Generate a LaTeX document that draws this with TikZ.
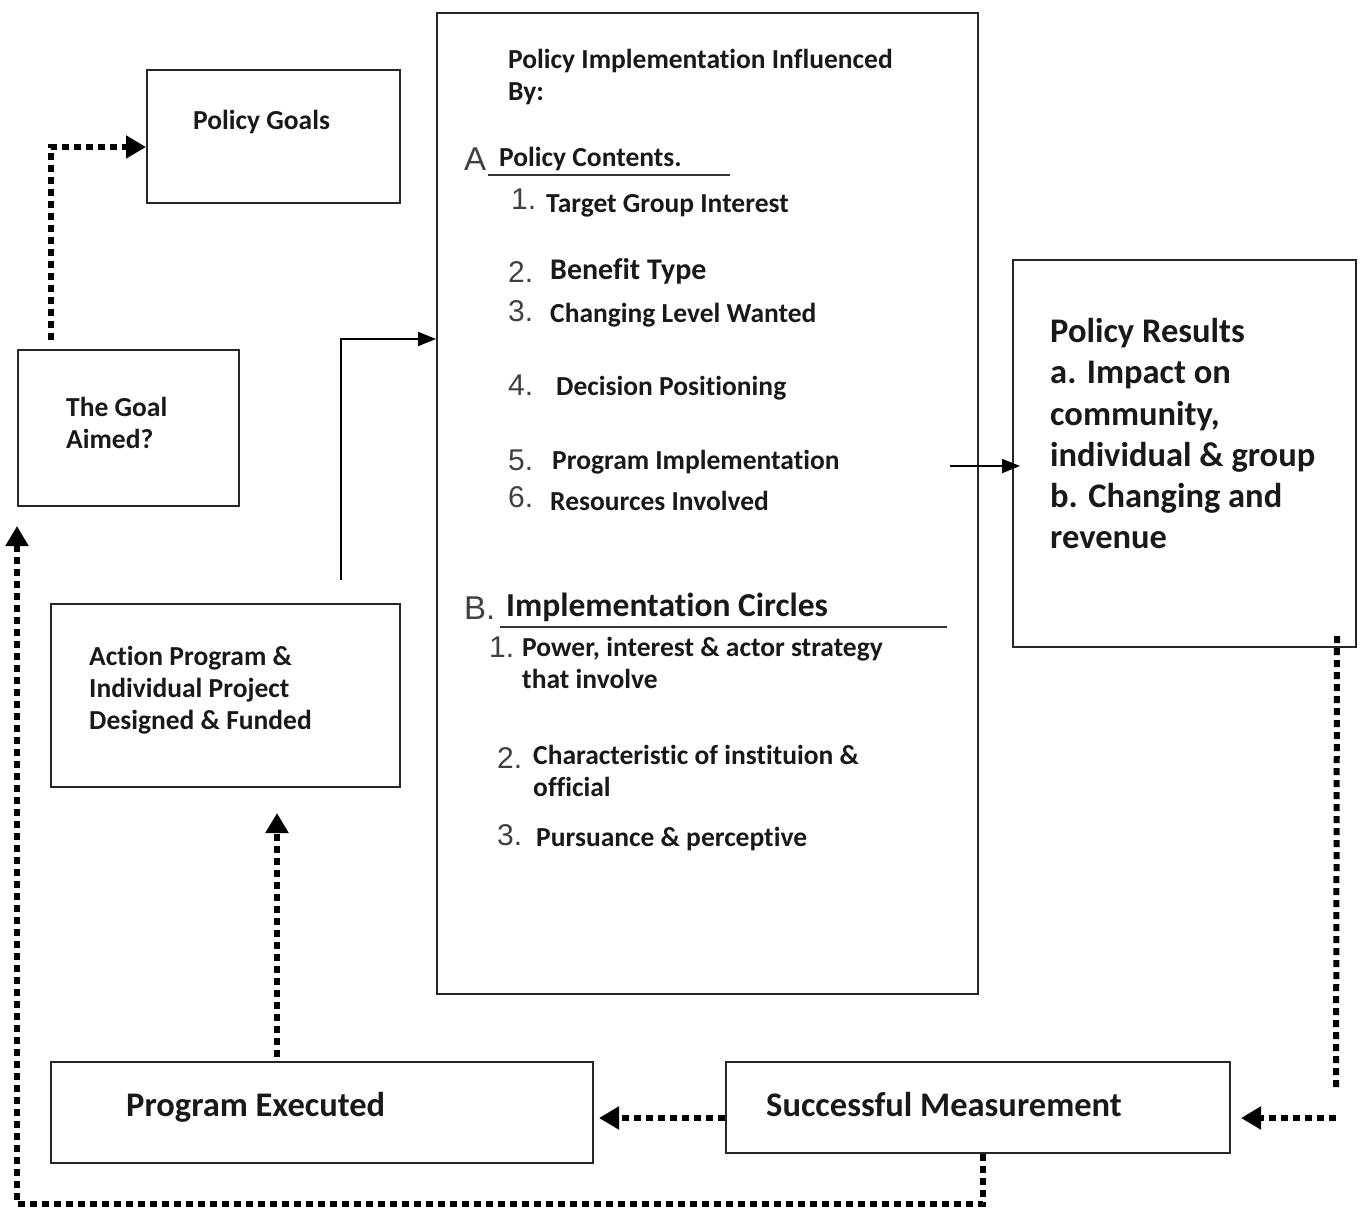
\documentclass[tikz,border=0pt]{standalone}
\usepackage{fontspec}
\setmainfont{Carlito}[Ligatures=NoCommon]
\newfontfamily\numfont{Liberation Sans}
\usetikzlibrary{arrows.meta}
\begin{document}
\begin{tikzpicture}[x=1pt,y=-1pt,
  box/.style={draw=black!85,line width=2pt,inner sep=0pt,fill=none},
  txt/.style={anchor=base west,inner sep=0pt,text=black!90,font=\bfseries\fontsize{27.5}{32}\selectfont},
  bigtxt/.style={txt,font=\bfseries\fontsize{34.5}{41}\selectfont},
  num/.style={anchor=base west,inner sep=0pt,text=black!75,font=\numfont\fontsize{30}{30}\selectfont},
  lettr/.style={num,font=\numfont\fontsize{33}{33}\selectfont},
  dotline/.style={draw=black,line width=6pt,dash pattern=on 7pt off 5pt},
  dotarrow/.style={dotline,-{Triangle[length=20pt,width=22pt]}},
  solidarrow/.style={draw=black,line width=2pt,-{Triangle[length=18pt,width=14pt]}},
  uline/.style={draw=black!80,line width=2pt}
]
\useasboundingbox (0,0) rectangle (1362,1209);

% boxes
\node[box,minimum width=253pt,minimum height=133pt] (pg) at (273.5,136.5) {};
\node[box,minimum width=541pt,minimum height=981pt] (main) at (707.5,503.5) {};
\node[box,minimum width=343pt,minimum height=387pt] (pr) at (1184.5,453.5) {};
\node[box,minimum width=221pt,minimum height=156pt] (ga) at (128.5,428) {};
\node[box,minimum width=349pt,minimum height=183pt] (ap) at (225.5,695.5) {};
\node[box,minimum width=542pt,minimum height=101pt] (pe) at (322,1112.5) {};
\node[box,minimum width=504pt,minimum height=91pt] (sm) at (978,1107.5) {};

% texts
\node[txt] (tpg) at (193,130) {Policy Goals};
\node[txt] (tga1) at (66,416) {The Goal};
\node[txt] (tga2) at (66,448) {Aimed?};
\node[txt] (tap1) at (89,665) {Action Program \&};
\node[txt] (tap2) at (89,697) {Individual Project};
\node[txt] (tap3) at (89,729) {Designed \& Funded};

\node[bigtxt] (tpr1) at (1050,342) {Policy Results};
\node[bigtxt] (tpr2) at (1050,383) {a. Impact on};
\node[bigtxt] (tpr3) at (1050,425) {community,};
\node[bigtxt] (tpr4) at (1050,466) {individual \& group};
\node[bigtxt] (tpr5) at (1050,507) {b. Changing and};
\node[bigtxt] (tpr6) at (1050,548) {revenue};

\node[bigtxt] (tpe) at (126,1116) {Program Executed};
\node[bigtxt] (tsm) at (766,1116) {Successful Measurement};

% main box content
\node[txt] (m0) at (508,69) {Policy Implementation Influenced};
\node[txt] (m0b) at (508,101) {By:};
\node[lettr] (la) at (464,171) {A};
\node[txt] (ma) at (499,167) {Policy Contents.};
\draw[uline] (488,175) -- (730,175);
\node[num] (n1) at (511,210) {1.};
\node[txt] (m1) at (546,212) {Target Group Interest};
\node[num] (n2) at (508,282) {2.};
\node[txt,font=\bfseries\fontsize{30}{32}\selectfont] (m2) at (550,279) {Benefit Type};
\node[num] (n3) at (508,321) {3.};
\node[txt] (m3) at (550,322) {Changing Level Wanted};
\node[num] (n4) at (508,395) {4.};
\node[txt] (m4) at (556,395) {Decision Positioning};
\node[num] (n5) at (508,470) {5.};
\node[txt] (m5) at (552,469) {Program Implementation};
\node[num] (n6) at (508,507) {6.};
\node[txt] (m6) at (550,510) {Resources Involved};

\node[lettr] (lb) at (464,619) {B.};
\node[txt,font=\bfseries\fontsize{33.5}{36}\selectfont] (mb) at (506,616) {Implementation Circles};
\draw[uline] (500,627) -- (947,627);
\node[num] (nb1) at (489,657) {1.};
\node[txt] (mb1) at (522,656) {Power, interest \& actor strategy};
\node[txt] (mb1b) at (522,688) {that involve};
\node[num] (nb2) at (497,768) {2.};
\node[txt] (mb2) at (533,764) {Characteristic of instituion \&};
\node[txt] (mb2b) at (533,796) {official};
\node[num] (nb3) at (497,845) {3.};
\node[txt] (mb3) at (536,846) {Pursuance \& perceptive};

% connectors
\coordinate (c1s) at (51,340);
\draw[dotarrow] (c1s) |- ([yshift=-10.5pt]pg.west);

\coordinate (c2s) at (341,580);
\draw[solidarrow] (c2s) |- ([yshift=164.5pt]main.west);

\draw[solidarrow,shorten >=-8pt] ([xshift=-29pt,yshift=37.5pt]main.east) -- ([yshift=-12.5pt]pr.west);

\coordinate (c4e) at (1336,1090);
\draw[dotline] ([xshift=-20pt,yshift=12pt]pr.south east) -- (c4e);
\coordinate (c5s) at (1336,1118);
\draw[dotarrow] (c5s) -- ([xshift=10pt,yshift=-10.5pt]sm.east);

\draw[dotarrow] ([yshift=-10.5pt]sm.west) -- ([xshift=5pt,yshift=-5.5pt]pe.east);

\draw[dotarrow] ([xshift=5pt]sm.south) -- ++(0,50) -| ([yshift=-19pt]ga.south west);

\draw[dotarrow] ([xshift=-45pt,yshift=4pt]pe.north) -- ([xshift=51.5pt,yshift=-25pt]ap.south);
\end{tikzpicture}
\end{document}
